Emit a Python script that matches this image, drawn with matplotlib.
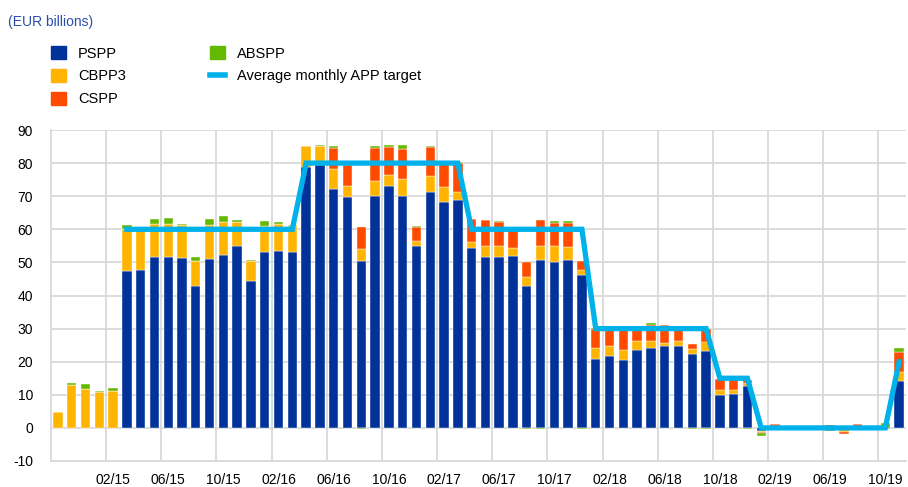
import matplotlib
matplotlib.use("Agg")
import matplotlib.pyplot as plt
from matplotlib.patches import Patch
from matplotlib.lines import Line2D
import numpy as np
import pandas as pd

plt.rcParams["font.family"] = ["Liberation Sans", "DejaVu Sans"]
plt.rcParams["axes.unicode_minus"] = False

# monthly categories, 10/14 .. 11/19
months = pd.date_range("2014-10-01", periods=62, freq="MS").strftime("%m/%y").tolist()

pspp = [0, 0, 0, 0, 0,
        47.5, 47.8, 51.7, 51.5, 51.3, 42.9, 51.1, 52.2, 55.1, 44.4,
        53.0, 53.3, 53.1, 78.8, 79.5, 72.1, 69.7, 50.5, 70.0, 73.0,
        70.2, 55.1, 71.4, 68.3, 68.8, 54.3, 51.5, 51.6, 51.8, 42.9,
        50.8, 50.2, 50.7, 46.2, 20.9, 21.8, 20.6, 23.5, 24.1, 24.8,
        24.8, 22.4, 23.1, 9.9, 10.2, 12.8, -0.8, 0.6, 0.1, -0.5,
        0.0, 0.4, 0.0, 0.0, 0.1, -0.3, 14.3]
cbpp3 = [4.7, 13.1, 11.9, 10.7, 11.0,
         12.6, 12.2, 10.0, 10.2, 10.1, 7.4, 10.3, 10.0, 7.0, 5.9,
         8.0, 8.2, 7.8, 6.4, 5.8, 6.2, 3.3, 3.6, 4.7, 3.4,
         5.0, 1.5, 4.8, 4.4, 2.5, 1.9, 3.4, 3.3, 2.5, 2.7,
         4.1, 4.7, 4.0, 1.4, 3.2, 3.0, 3.0, 2.9, 2.1, 0.9,
         1.6, 1.4, 2.8, 1.5, 1.4, 0.8, -0.3, 0.1, 0.0, 0.0,
         0.1, 0.0, -1.3, 0.6, 0.0, 0.0, 2.6]
cspp = [0, 0, 0, 0, 0,
        0, 0, 0, 0, 0, 0, 0, 0, 0, 0,
        0, 0, 0, 0, 0, 6.3, 6.5, 6.6, 10.0, 8.6,
        9.0, 4.0, 8.6, 7.2, 8.8, 6.9, 7.8, 7.3, 5.7, 4.6,
        8.0, 6.9, 7.1, 2.9, 5.9, 5.4, 7.1, 3.6, 4.8, 5.3,
        3.3, 1.4, 4.1, 3.4, 3.4, 1.0, -0.3, 0.4, 0.0, 0.0,
        0.0, 0.4, -0.5, 0.6, 0.0, 0.0, 5.9]
abspp = [0, 0.4, 1.4, 0.5, 1.1,
         1.1, 0.2, 1.5, 1.6, 0.3, 1.4, 1.7, 1.7, 0.7, 0.3,
         1.5, 0.8, 0.5, 0.1, 0.2, 0.6, 0.0, -0.2, 0.6, 0.5,
         1.3, 0.4, 0.4, 0.1, 0.3, 0.0, 0.0, 0.3, 0.1, -0.2,
         -0.2, 0.7, 0.8, -0.3, 0.1, 0.1, 0.2, 0.1, 0.6, 0.2,
         0.0, -0.4, -0.3, 0.0, 0.0, -0.3, -1.1, 0.0, 0.0, 0.0,
         0.4, -1.0, 0.0, 0.0, 0.0, 1.5, 1.2]
target = [np.nan] * 5 + [60] * 13 + [80] * 12 + [60] * 9 + [30] * 9 + [15] * 3 + [0] * 10 + [20]

series = [("PSPP", pspp, "#003299"),
          ("CBPP3", cbpp3, "#FFB400"),
          ("CSPP", cspp, "#FF4B00"),
          ("ABSPP", abspp, "#65B800")]

fig = plt.figure(figsize=(9.08, 4.87), dpi=100)
ax = fig.add_axes([51 / 908, 1 - 461 / 487, 855 / 908, 331 / 487])

x = np.arange(len(months))
pos_base = np.zeros(len(x))
neg_base = np.zeros(len(x))
for name, vals, col in series:
    v = np.array(vals, dtype=float)
    base = np.where(v >= 0, pos_base, neg_base)
    ax.bar(x, v, bottom=base, width=0.68, color=col, edgecolor="white",
           linewidth=0.3, zorder=2)
    pos_base += np.where(v >= 0, v, 0)
    neg_base += np.where(v < 0, v, 0)

ax.plot(x, target, color="#00B1EA", linewidth=3.8, zorder=3,
        solid_joinstyle="miter")

ax.set_xlim(-0.5, len(x) - 0.5)
ax.set_ylim(-10, 90)
ax.set_yticks(range(-10, 91, 10))
ax.set_xticks(x[4::4])
ax.set_xticklabels([months[i] for i in x[4::4]])
ax.set_xticks(np.arange(3.5, len(x), 4), minor=True)
ax.grid(axis="y", color="#D9D9D9", linewidth=1.3, zorder=0)
ax.grid(axis="x", which="minor", color="#D9D9D9", linewidth=1.3, zorder=0)
ax.set_axisbelow(True)
ax.tick_params(which="both", length=0, labelsize=10)
ax.tick_params(axis="x", pad=9)
ax.tick_params(axis="y", pad=13)
for s in ["top", "right"]:
    ax.spines[s].set_visible(False)
for s in ["left", "bottom"]:
    ax.spines[s].set_color("#D9D9D9")
    ax.spines[s].set_linewidth(1.3)

fig.text(8 / 908, 1 - 26 / 487, "(EUR billions)", color="#2A4FA8",
         fontsize=10, va="baseline", ha="left")

handles = [Patch(color=c) for _, _, c in series[:3]] + \
          [Patch(color=series[3][2]), Line2D([], [], color="#00B1EA", linewidth=4)]
labels = ["PSPP", "CBPP3", "CSPP", "ABSPP", "Average monthly APP target"]
fig.legend(handles, labels, ncol=2, loc="upper left",
           bbox_to_anchor=(51 / 908, 1 - 46 / 487), frameon=False,
           fontsize=10.5, handlelength=1.0, handleheight=1.0,
           handletextpad=0.85, labelspacing=0.57, columnspacing=5.8,
           borderpad=0, borderaxespad=0)

fig.savefig("out.png", dpi=100)
